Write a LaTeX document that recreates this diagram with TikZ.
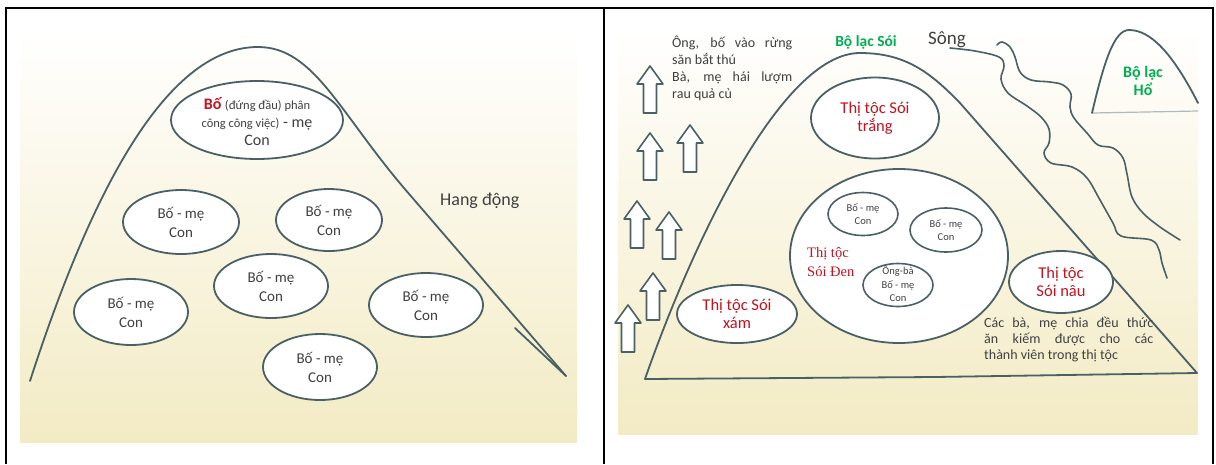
\documentclass[tikz,border=0pt]{standalone}
\usepackage{fontspec}
\setmainfont{Carlito}
\newfontfamily\serifface{Liberation Serif}
\usetikzlibrary{shapes.geometric}
\definecolor{ln}{RGB}{74,96,100}
\definecolor{tx}{RGB}{64,64,64}
\definecolor{rd}{RGB}{200,16,30}
\definecolor{gr}{RGB}{0,176,80}
\definecolor{bgy}{RGB}{243,235,196}
\definecolor{bgm}{RGB}{250,247,232}
\definecolor{hill}{RGB}{176,186,188}
\newcommand\myfs[2]{\fontsize{#1}{#2}\selectfont}
\begin{document}
\begin{tikzpicture}[x=1pt,y=-1pt,
  shapeline/.style={draw=ln, line width=1.8pt, line join=round, line cap=round},
  ell/.style={ellipse, shapeline, fill=white, inner sep=0pt},
  txt/.style={text=tx, align=center, inner sep=0pt},
  redtxt/.style={text=rd, align=center, inner sep=0pt, font=\myfs{16.5}{18}},
  bmtxt/.style={txt, font=\myfs{15}{19}},
  smalltxt/.style={txt, font=\myfs{10.5}{13.5}},
  greentxt/.style={text=gr, align=center, inner sep=0pt, font=\bfseries\myfs{15.5}{18}},
  frame/.style={draw=black, line width=2pt},
  uparr/.pic={\draw[shapeline, line width=1.6pt, fill=white]
      (-6.5,0) -- (-6.5,-29) -- (-13,-29) -- (0,-47) -- (13,-29) -- (6.5,-29) -- (6.5,0) -- cycle;}
]
\useasboundingbox (0,0) rectangle (1216,464);
% backgrounds
\shade[top color=white, middle color=bgm, bottom color=bgy] (20,28) rectangle (577,442);
\shade[top color=white, middle color=bgm, bottom color=bgy] (618,25) rectangle (1198,434);
% frame
\draw[frame] (5,8) -- (1214,8);
\draw[frame] (6,8) -- (6,464);
\draw[frame] (604,8) -- (604,464);
\draw[frame] (1213,8) -- (1213,464);

% ---------------- left panel ----------------
\coordinate (cL) at (30,381);
\coordinate (cTop) at (258,47);
\coordinate (cR1) at (410,195);
\coordinate (cR) at (566,376);
\coordinate (cS) at (515,328);
\draw[shapeline] (cL) .. controls (95,180) and (170,47) .. (cTop)
   .. controls (315,47) and (340,115) .. (cR1) -- (cR);
\draw[shapeline] (cS) -- (cR);
\node[txt, font=\myfs{18}{20}, anchor=west] (hang) at (440,201) {Hang động};

\node[ell, minimum width=172, minimum height=78] (top) at (257,120) {};
\node[txt, font=\myfs{16}{18}] (toptxt) at (257,122)
  {{\color{rd}\bfseries Bố} {\myfs{12.5}{18}(đứng đầu) phân}\\
   {\myfs{12.5}{18}công công việc)} - mẹ\\ Con};

\node[ell, minimum width=116, minimum height=64] (f1) at (181,222) {};
\node[bmtxt] (t1) at (f1) {Bố - mẹ\\Con};
\node[ell, minimum width=106, minimum height=62] (f2) at (329,220) {};
\node[bmtxt] (t2) at (f2) {Bố - mẹ\\Con};
\node[ell, minimum width=114, minimum height=64] (f3) at (271,286) {};
\node[bmtxt] (t3) at (f3) {Bố - mẹ\\Con};
\node[ell, minimum width=114, minimum height=66] (f4) at (131,312) {};
\node[bmtxt] (t4) at (f4) {Bố - mẹ\\Con};
\node[ell, minimum width=114, minimum height=64] (f5) at (426,305) {};
\node[bmtxt] (t5) at (f5) {Bố - mẹ\\Con};
\node[ell, minimum width=114, minimum height=66] (f6) at (320,367) {};
\node[bmtxt] (t6) at (f6) {Bố - mẹ\\Con};

% ---------------- right panel ----------------
% arrows
\pic at (650,113) {uparr};
\pic at (650,180) {uparr};
\pic at (690,172) {uparr};
\pic at (637,248) {uparr};
\pic at (669,259) {uparr};
\pic at (653,320) {uparr};
\pic at (628,352) {uparr};

\node[txt, anchor=north west, align=left, font=\myfs{14}{17}] (hunt) at (672,36)
  {\makebox[120pt][s]{Ông, bố vào rừng}\\ săn bắt thú\\
   \makebox[120pt][s]{Bà, mẹ hái lượm}\\ rau quả củ};

% big tribe arch
\coordinate (bL) at (645,379);
\coordinate (bTop) at (860,53);
\coordinate (bR1) at (960,103);
\coordinate (bR) at (1197,373);
\coordinate (bM) at (935,377);
\draw[shapeline] (bL) .. controls (690,250) and (780,53) .. (bTop)
   .. controls (905,53) and (930,72) .. (bR1) -- (bR) -- (bM) -- cycle;
\node[greentxt] (boloc) at (866,42) {Bộ lạc Sói};
\node[txt, font=\myfs{19}{20}] (song) at (947,40) {Sông};

% river
\draw[shapeline, line width=1.6pt] plot[smooth, tension=0.6] coordinates {
 (950,48) (975,51) (999,57) (1004,66) (1001,79) (1008,93) (1027,106) (1041,117)
 (1049,129) (1049,143) (1044,153) (1051,163) (1072,167) (1087,178) (1100,200)
 (1113,223) (1121,236) (1151,240) (1159,250) (1162,263) (1167,278)};
\draw[shapeline, line width=1.6pt] plot[smooth, tension=0.6] coordinates {
 (997,45) (1002,42) (1010,47) (1015,57) (1020,72) (1031,80) (1050,82) (1063,85)
 (1071,94) (1070,107) (1074,118) (1087,133) (1098,145) (1113,148) (1123,158)
 (1127,174) (1132,197) (1143,213) (1160,227) (1180,240)};

% tiger hill
\coordinate (hL) at (1092,113);
\coordinate (hTop) at (1129,30);
\coordinate (hR) at (1198,103);
\draw[draw=hill, line width=1.2pt] (hL) -- (1198,111);
\draw[shapeline] (hL) .. controls (1104,62) and (1114,30) .. (hTop)
   .. controls (1150,30) and (1172,52) .. (hR);
\node[greentxt, font=\bfseries\myfs{16}{18}] (ho) at (1143,81) {Bộ lạc\\Hổ};

% clans
\node[ell, minimum width=128, minimum height=81] (trang) at (875,118) {};
\node[redtxt] (trangt) at (trang) {Thị tộc Sói\\trắng};
\node[ell, minimum width=218, minimum height=174] (den) at (899,256) {};
\node[ell, line width=1.6pt, minimum width=70, minimum height=43] (d1) at (863,214) {};
\node[smalltxt] (d1t) at (d1) {Bố - mẹ\\Con};
\node[ell, line width=1.6pt, minimum width=72, minimum height=44] (d2) at (946,230) {};
\node[smalltxt] (d2t) at (d2) {Bố - mẹ\\Con};
\node[ell, line width=1.6pt, minimum width=70, minimum height=43] (d3) at (898,285) {};
\node[smalltxt] (d3t) at (898,284) {Ông-bà\\Bố - mẹ\\Con};
\node[text=rd, align=left, inner sep=0pt, anchor=west, font=\serifface\myfs{14.5}{19}] (dent) at (807,262) {Thị tộc\\Sói Đen};
\node[ell, minimum width=120, minimum height=58] (xam) at (737,314) {};
\node[redtxt] (xamt) at (xam) {Thị tộc Sói\\xám};
\node[ell, minimum width=104, minimum height=62] (nau) at (1061,282) {};
\node[redtxt] (naut) at (nau) {Thị tộc\\Sói nâu};

\node[txt, anchor=north west, align=left, font=\myfs{14}{16}] (share) at (984,317)
  {\makebox[169pt][s]{Các bà, mẹ chia đều thức}\\
   \makebox[169pt][s]{ăn kiếm được cho các}\\ thành viên trong thị tộc};
\end{tikzpicture}
\end{document}
